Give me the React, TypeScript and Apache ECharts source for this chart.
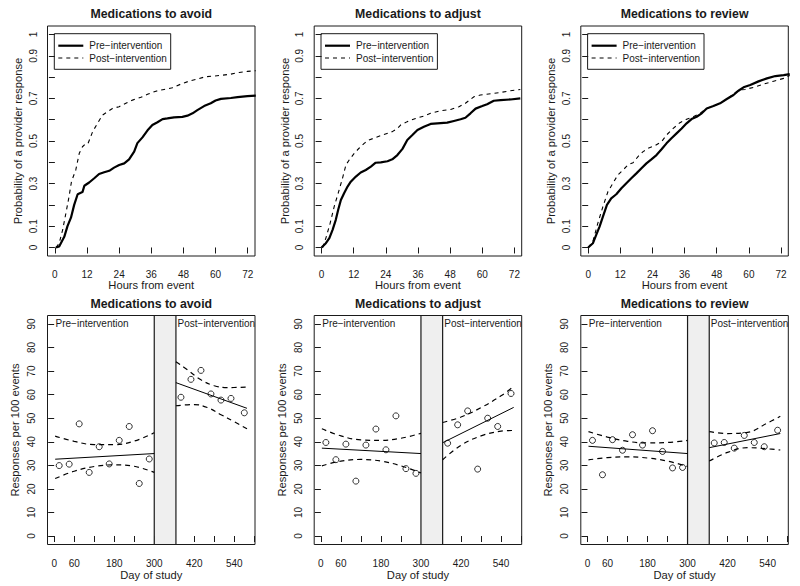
import React, { useEffect, useRef } from 'react';
import * as echarts from 'echarts';

const FONT = '"Liberation Sans", Arial, Helvetica, sans-serif';
const INK = '#1a1a1a';

const panelTitles = ['Medications to avoid', 'Medications to adjust', 'Medications to review'];
const legendLabels = ['Pre\u2212intervention', 'Post\u2212intervention'];

// top row axes
const hourTicks = [0, 12, 24, 36, 48, 60, 72];
const probTicks = [0, 0.1, 0.2, 0.3, 0.4, 0.5, 0.6, 0.7, 0.8, 0.9, 1];
const probLabels = [0, 0.1, 0.3, 0.5, 0.7, 0.9, 1];
// bottom row axes
const dayTicks = [0, 60, 120, 180, 240, 300, 360, 420, 480, 540, 600];
const dayLabels = [0, 60, 180, 300, 420, 540];
const rateTicks = [0, 10, 20, 30, 40, 50, 60, 70, 80, 90];
const washout = [300, 365];

// ---- cumulative probability of provider response: [hours, probability]
const avoidPre = [[0.4,0],[1.6,0.005],[3.5,0.05],[4.7,0.1],[6,0.14],[7.2,0.2],[8.5,0.25],[10.3,0.26],[11,0.29],[12.8,0.305],[14.7,0.325],[16.5,0.345],[18.4,0.353],[20.3,0.36],[22.1,0.375],[24,0.387],[25.9,0.395],[27.7,0.414],[29.6,0.45],[30.8,0.49],[32.7,0.517],[34.6,0.55],[36.4,0.575],[38.3,0.588],[40.2,0.603],[42,0.606],[44.5,0.611],[47.6,0.613],[49.5,0.619],[51.4,0.63],[53.2,0.645],[55.7,0.664],[58.2,0.677],[60,0.69],[62,0.698],[65.7,0.702],[68.2,0.706],[71.9,0.711],[75,0.713]];
const avoidPost = [[0.4,0],[1.6,0.02],[2.9,0.083],[4.1,0.16],[5.3,0.24],[6.2,0.31],[7.8,0.364],[9.1,0.442],[10.3,0.473],[11.6,0.489],[12.4,0.489],[14.1,0.544],[15.9,0.583],[17.8,0.622],[19.7,0.638],[21.5,0.653],[24,0.661],[26.5,0.677],[29,0.692],[32.1,0.705],[34.6,0.719],[37.7,0.734],[40.8,0.742],[43.9,0.75],[47,0.767],[50.1,0.781],[53.2,0.791],[56.3,0.802],[59.5,0.805],[62.6,0.809],[65.7,0.814],[68.8,0.822],[71.9,0.827],[75,0.83]];
const adjustPre = [[0,0],[1.6,0.02],[2.9,0.044],[4.1,0.083],[5.3,0.13],[6.2,0.177],[7.2,0.223],[8.4,0.255],[9.7,0.286],[10.9,0.309],[12.8,0.333],[14.6,0.352],[16.5,0.364],[18.4,0.38],[20.2,0.398],[22.1,0.4],[24.6,0.405],[26.4,0.414],[28.3,0.434],[30.2,0.463],[32,0.505],[33.9,0.528],[35.8,0.552],[38.2,0.567],[40.7,0.58],[43.2,0.583],[46.9,0.586],[49.4,0.594],[51.9,0.602],[53.7,0.609],[55.6,0.63],[57.5,0.652],[60,0.664],[61.8,0.673],[64.3,0.689],[66.8,0.692],[70.5,0.695],[74.2,0.7]];
const adjustPost = [[0.4,0],[1.6,0.044],[3.2,0.114],[4.7,0.192],[6.2,0.255],[7.8,0.325],[9.1,0.388],[10.3,0.411],[12.2,0.442],[14,0.466],[15.9,0.489],[17.7,0.505],[20.2,0.516],[23.3,0.531],[26.4,0.544],[28.3,0.559],[29.5,0.575],[32,0.591],[35.1,0.606],[38.2,0.617],[40.7,0.63],[44.4,0.642],[48.2,0.648],[51.3,0.661],[53.7,0.677],[56.9,0.708],[59.3,0.716],[63.1,0.722],[66.8,0.728],[70.5,0.736],[74.2,0.742]];
const reviewPre = [[0,0],[1.75,0.02],[3,0.059],[4.25,0.098],[5.5,0.145],[7,0.2],[8.6,0.231],[10.5,0.25],[12.4,0.278],[14.25,0.302],[16.1,0.325],[18,0.348],[19.9,0.372],[21.75,0.395],[23.6,0.414],[25.5,0.434],[27.4,0.461],[29.25,0.489],[31.1,0.513],[33,0.536],[34.9,0.559],[36.75,0.583],[38.6,0.603],[40.5,0.614],[42.4,0.63],[44.25,0.653],[46.75,0.664],[49.25,0.677],[51.75,0.697],[54.25,0.716],[56.1,0.736],[58,0.752],[60.5,0.763],[63.6,0.78],[66.75,0.794],[69.9,0.805],[73,0.809],[75.25,0.814]];
const reviewPost = [[0,0],[1.75,0.028],[3.6,0.114],[5.5,0.192],[7.4,0.263],[9.25,0.302],[11.1,0.341],[13,0.364],[14.9,0.388],[16.75,0.398],[18.6,0.427],[20.5,0.45],[22.4,0.466],[24.9,0.478],[27.4,0.497],[29.25,0.528],[31.75,0.559],[34.25,0.586],[36.75,0.602],[39.25,0.614],[41.75,0.63],[44.25,0.653],[46.75,0.664],[49.25,0.677],[51.75,0.697],[54.25,0.72],[56.1,0.739],[58.6,0.742],[61.75,0.752],[65.5,0.767],[69.25,0.781],[73,0.794],[75.25,0.808]];

// ---- responses per 100 events by day of study
const preDays = [15, 45, 75, 105, 135, 165, 195, 225, 255, 285];
const postDays = [380, 410, 440, 470, 500, 530, 570];

const avoidPreRates = [29.9, 30.5, 47.6, 27.0, 37.9, 30.6, 40.6, 46.5, 22.3, 32.7];
const avoidPostRates = [58.9, 66.5, 70.3, 60.3, 57.7, 58.4, 52.3];
const avoidPreFit = [[3, 32.6], [300, 35.0]];
const avoidPreUpper = [[3, 42.4], [60, 40.2], [120, 38.8], [180, 38.8], [240, 40.3], [300, 43.8]];
const avoidPreLower = [[3, 24.4], [60, 27.5], [120, 29.5], [180, 30.2], [240, 29.6], [300, 27.0]];
const avoidPostFit = [[365, 65.1], [578, 54.2]];
const avoidPostUpper = [[365, 74.0], [400, 70.5], [440, 66.3], [480, 63.8], [520, 63.0], [578, 63.2]];
const avoidPostLower = [[365, 55.3], [420, 55.8], [460, 54.5], [500, 51.5], [540, 48.5], [578, 45.5]];

const adjustPreRates = [39.7, 32.4, 39.0, 23.3, 38.6, 45.4, 36.6, 51.0, 28.6, 26.6];
const adjustPostRates = [39.4, 47.2, 53.1, 28.4, 50.0, 46.5, 60.5];
const adjustPreFit = [[3, 37.3], [300, 35.0]];
const adjustPreUpper = [[3, 45.5], [60, 42.5], [120, 40.8], [180, 40.6], [240, 41.5], [300, 43.6]];
const adjustPreLower = [[3, 29.8], [60, 31.8], [120, 32.5], [180, 31.8], [240, 29.8], [300, 26.8]];
const adjustPostFit = [[365, 39.6], [578, 54.6]];
const adjustPostUpper = [[365, 48.2], [420, 50.5], [480, 54.5], [540, 59.5], [578, 63.5]];
const adjustPostLower = [[365, 32.4], [420, 38.5], [480, 42.5], [540, 44.5], [578, 44.8]];

const reviewPreRates = [40.6, 26.0, 40.9, 36.4, 43.0, 38.6, 44.7, 35.9, 28.9, 29.1];
const reviewPostRates = [39.5, 39.7, 37.3, 42.7, 39.7, 37.9, 44.9];
const reviewPreFit = [[3, 38.1], [300, 35.0]];
const reviewPreUpper = [[3, 44.3], [60, 42.0], [120, 40.2], [180, 39.5], [240, 39.7], [300, 40.6]];
const reviewPreLower = [[3, 32.3], [60, 33.3], [120, 33.6], [180, 33.1], [240, 31.8], [300, 29.5]];
const reviewPostFit = [[365, 37.5], [578, 43.5]];
const reviewPostUpper = [[365, 44.3], [420, 43.5], [480, 44.0], [540, 48.0], [578, 50.8]];
const reviewPostLower = [[365, 31.8], [420, 35.5], [480, 37.5], [540, 37.0], [578, 36.5]];

const topCurves = [
  [avoidPre, avoidPost],
  [adjustPre, adjustPost],
  [reviewPre, reviewPost],
];
const bottomPanels = [
  { pre: avoidPreRates, post: avoidPostRates, preFit: avoidPreFit, preUp: avoidPreUpper, preLo: avoidPreLower, postFit: avoidPostFit, postUp: avoidPostUpper, postLo: avoidPostLower },
  { pre: adjustPreRates, post: adjustPostRates, preFit: adjustPreFit, preUp: adjustPreUpper, preLo: adjustPreLower, postFit: adjustPostFit, postUp: adjustPostUpper, postLo: adjustPostLower },
  { pre: reviewPreRates, post: reviewPostRates, preFit: reviewPreFit, preUp: reviewPreUpper, preLo: reviewPreLower, postFit: reviewPostFit, postUp: reviewPostUpper, postLo: reviewPostLower },
];

// layout
const COL_LEFT = [47.5, 314.2, 580.8];
const BOX_W = 207.5;
const TOP_Y = 26, TOP_H = 230;
const BOT_Y = 315.5, BOT_H = 229;
const HOUR_MIN = -2.76, HOUR_MAX = 74.72;
const PROB_MIN = -0.04, PROB_MAX = 1.04;
const DAY_MIN = -20, DAY_MAX = 602;
const RATE_MIN = -3.6, RATE_MAX = 93.6;

const fmt = (v: number) => String(parseFloat(Number(v).toFixed(2)));

export default function App() {
  const ref = useRef<HTMLDivElement>(null);
  useEffect(() => {
    const chart = echarts.init(ref.current!, null, { renderer: 'svg' });
    const grid: any[] = [];
    const xAxis: any[] = [];
    const yAxis: any[] = [];
    const series: any[] = [];

    const tick = (vals: number[]) => ({ show: true, inside: false, length: 6, customValues: vals, lineStyle: { color: INK, width: 1 } });
    const label = (vals: number[], extra: any = {}) => ({ show: true, customValues: vals, color: INK, fontFamily: FONT, fontSize: 10, formatter: (v: number) => fmt(v), ...extra });
    const nameStyle = { color: INK, fontFamily: FONT, fontSize: 11.2 };
    const gridStyle = { show: true, borderColor: INK, borderWidth: 1, backgroundColor: 'transparent' };

    for (let c = 0; c < 3; c++) {
      grid.push({ left: COL_LEFT[c], top: TOP_Y, width: BOX_W, height: TOP_H, ...gridStyle });
    }
    for (let c = 0; c < 3; c++) {
      grid.push({ left: COL_LEFT[c], top: BOT_Y, width: BOX_W, height: BOT_H, ...gridStyle });
    }

    for (let c = 0; c < 3; c++) {
      xAxis.push({
        type: 'value', gridIndex: c, min: HOUR_MIN, max: HOUR_MAX,
        name: 'Hours from event', nameLocation: 'middle', nameGap: 22, nameTextStyle: nameStyle,
        axisLine: { show: false }, splitLine: { show: false },
        axisTick: tick(hourTicks), axisLabel: label(hourTicks, { margin: 13 }),
      });
      yAxis.push({
        type: 'value', gridIndex: c, min: PROB_MIN, max: PROB_MAX,
        name: 'Probability of a provider response', nameLocation: 'middle', nameGap: 24, nameRotate: 90, nameTextStyle: nameStyle,
        axisLine: { show: false }, splitLine: { show: false },
        axisTick: tick(probTicks), axisLabel: label(probLabels, { rotate: 90, margin: 9.5 }),
      });
      const [pre, post] = topCurves[c];
      series.push({
        type: 'line', xAxisIndex: c, yAxisIndex: c, data: pre, symbol: 'none', showSymbol: false, clip: true, silent: true,
        lineStyle: { color: '#000', width: 2.2 },
      });
      series.push({
        type: 'line', xAxisIndex: c, yAxisIndex: c, data: post, symbol: 'none', showSymbol: false, clip: true, silent: true,
        lineStyle: { color: '#000', width: 1.1, type: [4, 4] },
      });
    }

    for (let c = 0; c < 3; c++) {
      const g = 3 + c;
      const p = bottomPanels[c];
      xAxis.push({
        type: 'value', gridIndex: g, min: DAY_MIN, max: DAY_MAX,
        name: 'Day of study', nameLocation: 'middle', nameGap: 23.5, nameTextStyle: nameStyle,
        axisLine: { show: false }, splitLine: { show: false },
        axisTick: tick(dayTicks), axisLabel: label(dayLabels, { margin: 14 }),
      });
      yAxis.push({
        type: 'value', gridIndex: g, min: RATE_MIN, max: RATE_MAX,
        name: 'Responses per 100 events', nameLocation: 'middle', nameGap: 27, nameRotate: 90, nameTextStyle: nameStyle,
        axisLine: { show: false }, splitLine: { show: false },
        axisTick: tick(rateTicks), axisLabel: label(rateTicks, { rotate: 90, margin: 11 }),
      });
      const lineBase = { type: 'line', xAxisIndex: g, yAxisIndex: g, symbol: 'none', showSymbol: false, silent: true };
      const dash = { color: '#000', width: 1.2, type: [5, 4] };
      series.push({
        ...lineBase, data: [],
        markArea: {
          silent: true,
          itemStyle: { color: '#efefef', borderColor: INK, borderWidth: 1.2 },
          data: [[{ xAxis: washout[0], yAxis: RATE_MIN }, { xAxis: washout[1], yAxis: RATE_MAX }]],
        },
      });
      series.push({ ...lineBase, data: p.preFit, lineStyle: { color: '#000', width: 1 } });
      series.push({ ...lineBase, data: p.preUp, smooth: 0.4, lineStyle: dash });
      series.push({ ...lineBase, data: p.preLo, smooth: 0.4, lineStyle: dash });
      series.push({ ...lineBase, data: p.postFit, lineStyle: { color: '#000', width: 1 } });
      series.push({ ...lineBase, data: p.postUp, smooth: 0.4, lineStyle: dash });
      series.push({ ...lineBase, data: p.postLo, smooth: 0.4, lineStyle: dash });
      const scatterBase = {
        type: 'scatter', xAxisIndex: g, yAxisIndex: g, symbol: 'circle', symbolSize: 6, silent: true,
        itemStyle: { color: 'rgba(255,255,255,0)', borderColor: '#000', borderWidth: 1 },
      };
      series.push({ ...scatterBase, data: preDays.map((d, k) => [d, p.pre[k]]) });
      series.push({ ...scatterBase, data: postDays.map((d, k) => [d, p.post[k]]) });
    }

    chart.setOption({ animation: false, backgroundColor: '#fff', grid, xAxis, yAxis, series });

    const graphic: any[] = [];
    const txt = (x: number, y: number, text: string, font: string, align = 'left') => ({
      type: 'text', x, y, silent: true,
      style: { text, x: 0, y: 0, fill: INK, font, align, verticalAlign: 'middle', textAlign: align, textVerticalAlign: 'middle' },
    });
    for (let c = 0; c < 3; c++) {
      const cx = COL_LEFT[c] + BOX_W / 2;
      graphic.push(txt(cx, 14.3, panelTitles[c], `bold 12.3px ${FONT}`, 'center'));
      graphic.push(txt(cx, 304, panelTitles[c], `bold 12.3px ${FONT}`, 'center'));
      // legend box in top panel
      const [lx, ly] = chart.convertToPixel({ gridIndex: c }, [HOUR_MIN, PROB_MAX]) as number[];
      const bx = lx + 6.8, by = ly + 7.7;
      graphic.push({ type: 'rect', silent: true, shape: { x: bx, y: by, width: 116.4, height: 35.6 }, style: { fill: '#fff', stroke: INK, lineWidth: 1 } });
      graphic.push({ type: 'line', silent: true, shape: { x1: bx + 4, y1: by + 12, x2: bx + 29, y2: by + 12 }, style: { stroke: '#000', lineWidth: 2.2 } });
      graphic.push({ type: 'line', silent: true, shape: { x1: bx + 4, y1: by + 24.3, x2: bx + 29, y2: by + 24.3 }, style: { stroke: '#000', lineWidth: 1.1, lineDash: [4, 4] } });
      graphic.push(txt(bx + 35, by + 12, legendLabels[0], `10px ${FONT}`));
      graphic.push(txt(bx + 35, by + 24.3, legendLabels[1], `10px ${FONT}`));
      // period labels in bottom panel
      const [px, py] = chart.convertToPixel({ gridIndex: 3 + c }, [4, 90]) as number[];
      const [qx] = chart.convertToPixel({ gridIndex: 3 + c }, [washout[1], 90]) as number[];
      graphic.push(txt(px, py, legendLabels[0], `10px ${FONT}`));
      graphic.push(txt(qx + 1.6, py, legendLabels[1], `10px ${FONT}`));
    }
    chart.setOption({ graphic });

    return () => chart.dispose();
  }, []);
  return <div ref={ref} style={{ position: 'fixed', left: 0, top: 0, width: 800, height: 586, background: '#fff' }} />;
}
